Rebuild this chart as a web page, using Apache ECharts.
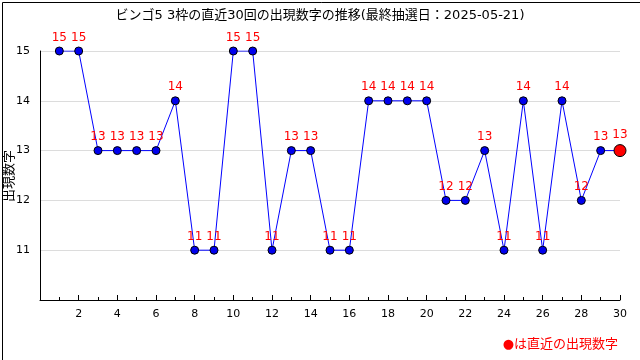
<!DOCTYPE html>
<html><head><meta charset="utf-8">
<script src="https://cdn.jsdelivr.net/npm/echarts@6/dist/echarts.min.js"></script>
<style>html,body{margin:0;padding:0;background:#fff}#c{width:640px;height:360px}</style>
</head><body><div id="c"></div>
<script>
const titleText = 'ビンゴ5 3枠の直近30回の出現数字の推移(最終抽選日：2025-05-21)';
const yName = '出現数字';
const noteText = '●は直近の出現数字';
const draws = [1,2,3,4,5,6,7,8,9,10,11,12,13,14,15,16,17,18,19,20,21,22,23,24,25,26,27,28,29,30];
const values = [15,15,13,13,13,13,14,11,11,15,15,11,13,13,11,11,14,14,14,14,12,12,13,11,14,11,14,12,13,13];

const font = '"DejaVu Sans", "Noto Sans CJK JP", sans-serif';
const pts = draws.map((d,i)=>[d, values[i]]);
const last = pts.length - 1;
const chart = echarts.init(document.getElementById('c'));
chart.setOption({
  animation:false,
  backgroundColor:'#fff',
  title:{text:titleText,left:'center',top:4,textStyle:{fontSize:13,fontWeight:'normal',color:'#000',fontFamily:font}},
  grid:{left:40,right:20,top:51,bottom:60,containLabel:false,outerBoundsMode:'none'},
  xAxis:[{type:'value',min:0,max:30,interval:2,
    axisLine:{lineStyle:{color:'#000',width:1}},
    axisTick:{show:true,inside:true,length:5,lineStyle:{color:'#000'}},
    axisLabel:{color:'#000',fontSize:11,fontFamily:font,margin:9,formatter:v=>v===0?'':String(v)},
    splitLine:{show:false}},
    {type:'value',min:0,max:30,interval:1,position:'bottom',offset:0,
    axisLine:{show:false},
    axisTick:{show:true,inside:true,length:3,lineStyle:{color:'#000'}},
    axisLabel:{show:false},splitLine:{show:false}}],
  yAxis:{type:'value',min:10,max:15,interval:1,
    axisLine:{show:true,lineStyle:{color:'#000',width:1}},
    axisTick:{show:false},
    axisLabel:{color:'#000',fontSize:11,fontFamily:font,margin:10,formatter:v=>v===10?'':String(v)},
    splitLine:{show:true,lineStyle:{color:'#dcdcdc',width:1}}},
  series:[{type:'line',xAxisIndex:0,data:pts.map((p,i)=>i===last?{value:p,symbolSize:12,itemStyle:{color:'#ff0000',borderColor:'#000',borderWidth:1}}:p),
    symbol:'circle',symbolSize:8,
    lineStyle:{color:'#0000ff',width:1},
    itemStyle:{color:'#0000ee',borderColor:'#000',borderWidth:1},
    label:{show:true,position:'top',distance:3,color:'#ff0000',fontSize:12,fontFamily:font},
    z:3}],
  graphic:[
    {type:'rect',left:0,top:0,shape:{width:639,height:359},style:{fill:null,stroke:'#000',lineWidth:1},silent:true},
    {type:'text',x:10,y:176,rotation:Math.PI/2,style:{text:yName,fill:'#000',fontSize:13,fontFamily:font,align:'center',verticalAlign:'middle'}},
    {type:'text',right:22,top:338,style:{text:noteText,fill:'#ff0000',fontSize:13,fontFamily:font}}
  ]
});
</script></body></html>
